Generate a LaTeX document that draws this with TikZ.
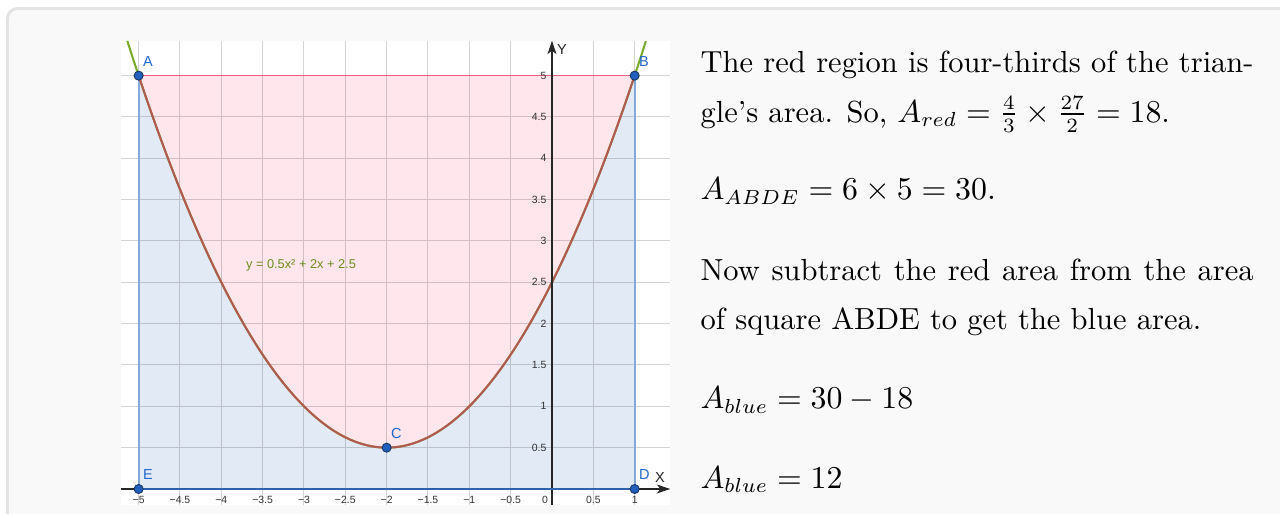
\documentclass[tikz,border=0pt]{standalone}
\usepackage{fontspec}
\newfontfamily\ggbfont{Liberation Sans}
\usetikzlibrary{arrows.meta, positioning, calc}
\definecolor{panelbg}{HTML}{F9F9F9}
\definecolor{panelrim}{HTML}{E3E3E3}
\definecolor{bluearea}{HTML}{E2EAF6}
\definecolor{blueside}{HTML}{82A8DC}
\definecolor{bluebase}{HTML}{2F62AE}
\definecolor{redarea}{HTML}{FFE5EC}
\definecolor{redtop}{HTML}{EE5E82}
\definecolor{redcurve}{HTML}{B25A52}
\definecolor{greencurve}{HTML}{7AAA2C}
\definecolor{ptfill}{HTML}{1F5EBB}
\definecolor{ptrim}{HTML}{1A355E}
\definecolor{ptname}{HTML}{2268CC}
\definecolor{fnname}{HTML}{6E8C1E}

\begin{document}
\begin{tikzpicture}[
  x=1cm, y=1cm,
  panel/.style={draw=panelrim, fill=panelbg, line width=1pt, rounded corners=0.12cm},
  gridline/.style={draw=black, opacity=0.17, line width=0.35pt},
  side/.style={draw=blueside, line width=0.75pt},
  axis/.style={draw=black!85, line width=0.35pt, -{Stealth[length=1.6mm, width=1.1mm, inset=0.45mm]}},
  pt/.style={circle, fill=ptfill, draw=ptrim, line width=0.3pt, minimum size=0.11cm, inner sep=0pt},
  ptlbl/.style={font=\ggbfont\fontsize{5}{6}\selectfont, text=ptname, inner sep=0pt},
  tick/.style={font=\ggbfont\fontsize{3.6}{4}\selectfont, text=black!80, inner sep=0pt},
  txt/.style={font=\fontsize{10.5}{16.8}\selectfont, anchor=base west, inner sep=0pt}
]

% ---- page and panel
\path[use as bounding box] (-6.677,-0.302) rectangle (8.806,5.915);
\clip (-6.677,-0.302) rectangle (8.806,5.915);
\draw[panel] (-6.586,5.812) rectangle (10,-2);
\fill[white] (-5.214,-0.194) rectangle (1.427,5.419);

% ---- the five points
\coordinate (E) at (-5,0);
\coordinate (D) at (1,0);
\coordinate (A) at (-5,5);
\coordinate (B) at (1,5);
\coordinate (C) at (-2,0.5);

% ---- blue square and red region under the grid
\fill[bluearea] (E) rectangle (B);
\fill[redarea] (A) -- plot[domain=-5:1, samples=90] (\x,{0.5*\x*\x+2*\x+2.5}) -- cycle;
\draw[gridline, step=0.5] (-5.214,-0.194) grid (1.427,5.419);

% ---- edges of ABDE
\draw[side] (A) -- (E);
\draw[side] (B) -- (D);
\draw[redtop, line width=0.55pt] (A) -- (B);

% ---- the parabola
\draw[greencurve, line width=0.7pt] plot[domain=-5.137:1.137, samples=90] (\x,{0.5*\x*\x+2*\x+2.5});
\draw[redcurve, line width=0.7pt] plot[domain=-5:1, samples=90] (\x,{0.5*\x*\x+2*\x+2.5});
\node[font=\ggbfont\fontsize{4.4}{5}\selectfont, text=fnname, inner sep=0pt] (fn) at (-3.036,2.71)
  {y = 0.5x² + 2x + 2.5};

% ---- axes
\coordinate (xl) at (-5.214,0);
\coordinate (xr) at (1.427,0);
\coordinate (yb) at (0,-0.194);
\coordinate (yt) at (0,5.419);
\draw[axis] (xl) -- (xr);
\draw[axis] (yb) -- (yt);
\draw[bluebase, line width=0.5pt] (E) -- (D);
\node[ptlbl, text=black!85, anchor=south west] (xname) at (1.24,0.07) {X};
\node[ptlbl, text=black!85, anchor=south west] (yname) at (0.055,5.25) {Y};

% ---- tick labels
\foreach \v/\t [count=\i] in {-5/−5, -4.5/−4.5, -4/−4, -3.5/−3.5, -3/−3, -2.5/−2.5,
    -2/−2, -1.5/−1.5, -1/−1, -0.5/−0.5, 0.5/0.5, 1/1}
  \node[tick] (xt\i) at (\v,-0.133) {\t};
\node[tick] (xt0) at (-0.085,-0.133) {0};
\foreach \v [count=\i] in {0.5,1,1.5,2,2.5,3,3.5,4,4.5,5}
  \node[tick, anchor=east] (yt\i) at (-0.06,\v) {\v};

% ---- dots and their names
\foreach \p in {A,B,C,D,E} {
  \node[pt] (dot\p) at (\p) {};
  \node[ptlbl, above right=0.06cm and 0.005cm of dot\p] (name\p) {\p};
}

% ---- the text on the right
\node[txt] (t1) at (1.79,5.032)
  {\makebox[6.69cm][s]{The red region is four-thirds of the trian-}};
\node[txt] (t2) at (1.79,4.439)
  {gle's area. So, $A_{red} = \frac{4}{3} \times \frac{27}{2} = 18$.};
\node[txt] (t3) at (1.79,3.496) {$A_{ABDE} = 6 \times 5 = 30.$};
\node[txt] (t4) at (1.79,2.516)
  {\makebox[6.69cm][s]{Now subtract the red area from the area}};
\node[txt] (t5) at (1.79,1.935) {of square ABDE to get the blue area.};
\node[txt] (t6) at (1.79,0.968) {$A_{blue} = 30 - 18$};
\node[txt] (t7) at (1.79,0.012) {$A_{blue} = 12$};

\end{tikzpicture}
\end{document}
